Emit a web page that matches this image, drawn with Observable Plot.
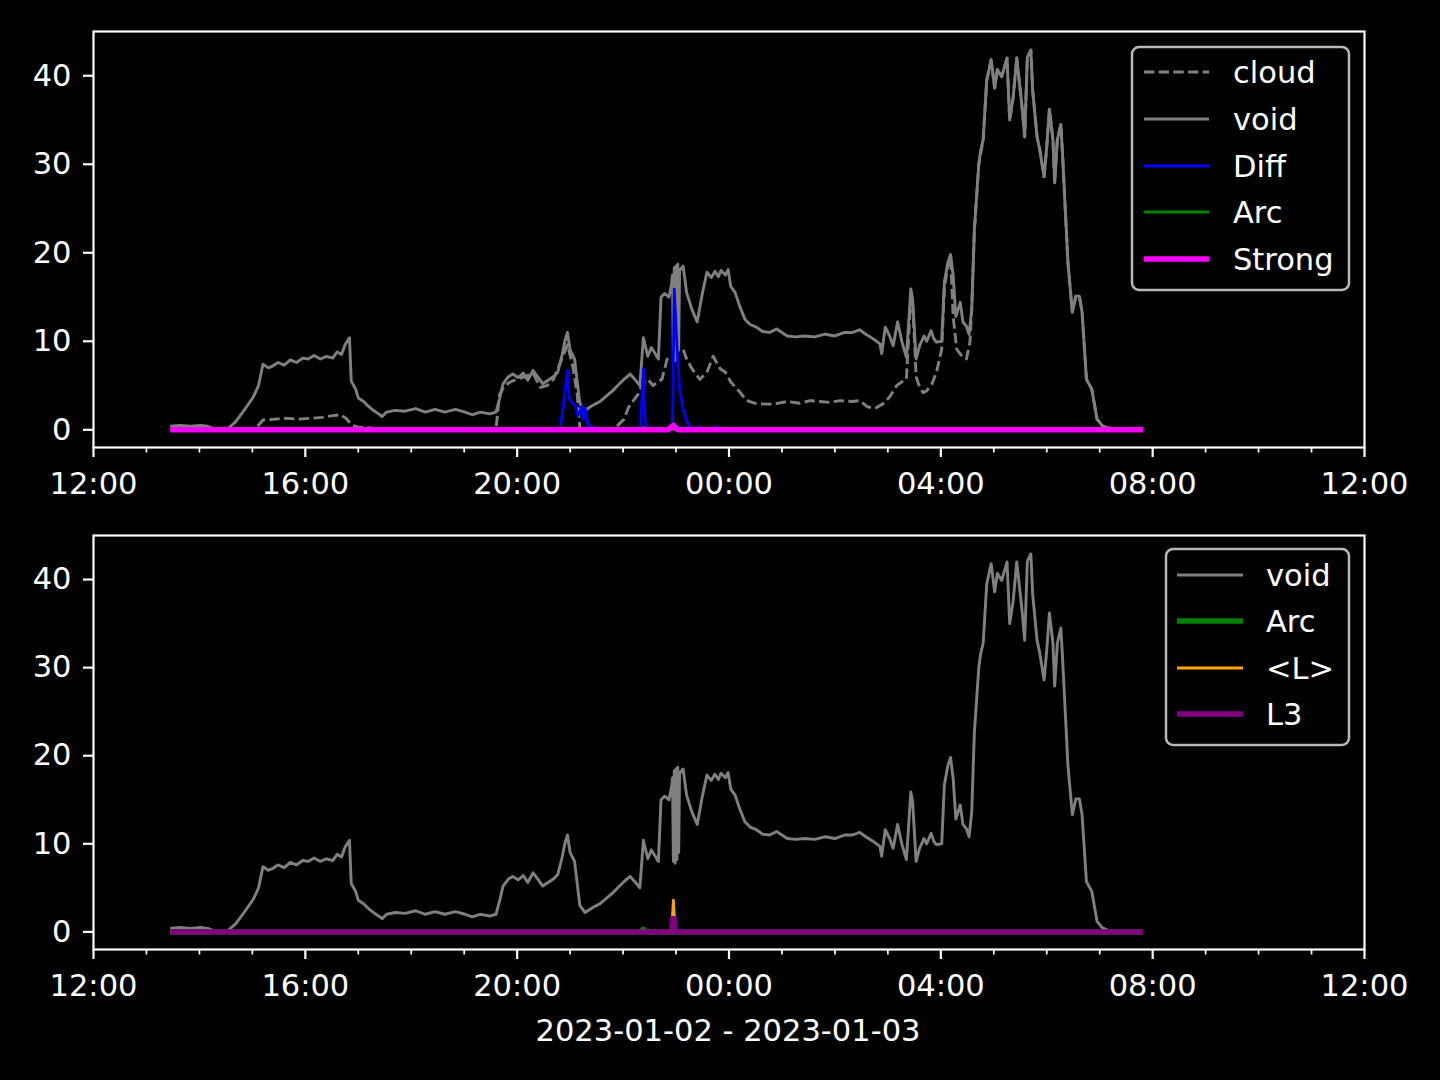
<!DOCTYPE html>
<html><head><meta charset="utf-8">
<script src="https://cdn.jsdelivr.net/npm/d3@7"></script>
<script src="https://cdn.jsdelivr.net/npm/@observablehq/plot@0.6"></script>
<style>
html,body{margin:0;padding:0;background:#000;}
#wrap{position:relative;width:1440px;height:1080px;background:#000;overflow:hidden;}
.panel{position:absolute;left:0;}
#overlay{position:absolute;left:0;top:0;}
</style>
</head><body>
<div id="wrap">
  <div id="p1" class="panel" style="top:0px"></div>
  <div id="p2" class="panel" style="top:500px"></div>
  <svg id="overlay" width="1440" height="1080"></svg>
</div>
<script>
// minutes after 2023-01-02 12:00, value
const voidSeries = [[87,0.4],[98,0.5],[110,0.4],[121,0.5],[129,0.4],[138,0.1],[153,0.2],[161,0.9],[172,2.4],[181,3.7],[187,5.0],[192,7.4],[198,7.0],[203,7.2],[209,7.6],[216,7.3],[223,7.9],[230,7.6],[237,8.1],[243,8.0],[250,8.4],[257,8.0],[264,8.3],[271,8.1],[276,8.8],[281,8.5],[285,9.6],[290,10.4],[292,5.5],[297,4.6],[300,3.6],[306,3.2],[311,2.7],[317,2.2],[323,1.8],[327,1.5],[332,2.0],[342,2.2],[353,2.1],[365,2.4],[376,2.0],[387,2.3],[398,2.0],[410,2.3],[421,2.0],[429,1.7],[438,2.0],[449,1.8],[456,2.0],[460,3.5],[464,5.2],[470,6.0],[475,6.3],[481,5.9],[487,6.4],[492,5.6],[498,6.7],[504,5.9],[509,5.2],[515,5.6],[521,6.0],[526,6.5],[531,8.5],[534,10.0],[537,11.0],[540,9.0],[545,8.0],[548,5.5],[551,3.0],[557,2.2],[563,2.6],[568,2.9],[574,3.2],[581,3.8],[588,4.4],[594,5.0],[601,5.7],[608,6.3],[615,5.5],[619,5.0],[623,10.4],[628,8.3],[632,9.3],[637,8.5],[640,8.0],[643,15.0],[647,15.4],[652,15.0],[655,16.5],[656,17.5],[657,8.0],[658,18.3],[659,7.8],[660,18.5],[661,8.2],[662,18.7],[663,9.0],[664,18.0],[668,18.5],[672,15.5],[678,13.6],[684,12.2],[690,15.5],[695,17.8],[700,17.2],[704,17.9],[708,17.3],[711,18.0],[716,17.5],[719,18.1],[722,16.2],[727,15.5],[732,14.0],[738,12.5],[744,11.9],[751,11.6],[758,11.1],[766,11.0],[774,11.4],[780,11.0],[786,10.6],[795,10.5],[806,10.6],[817,10.5],[829,10.8],[840,10.6],[851,11.0],[860,11.0],[868,11.3],[875,10.8],[883,10.3],[891,9.7],[893,8.6],[897,11.6],[902,10.6],[906,9.5],[911,12.2],[916,9.9],[921,8.2],[926,15.9],[928,14.8],[932,8.0],[936,9.5],[941,10.6],[944,10.0],[949,11.2],[952,10.3],[955,9.9],[961,10.0],[964,16.7],[968,18.9],[971,19.8],[974,17.4],[977,12.8],[982,14.4],[985,12.2],[989,11.7],[992,10.8],[995,13.6],[998,22.6],[1003,30.0],[1005,31.5],[1008,32.8],[1012,39.5],[1017,41.8],[1021,38.6],[1024,40.7],[1029,39.9],[1035,42.0],[1038,35.0],[1042,37.6],[1046,42.0],[1052,36.5],[1055,33.1],[1058,42.1],[1062,42.9],[1064,38.4],[1069,33.1],[1072,31.7],[1077,28.6],[1080,32.0],[1083,36.2],[1087,32.8],[1089,27.9],[1092,32.8],[1096,34.5],[1098,30.9],[1104,18.9],[1109,13.3],[1113,15.1],[1117,15.1],[1120,13.3],[1125,5.7],[1131,4.6],[1137,1.2],[1143,0.45],[1149,0.2],[1163,0.1],[1189,0.1]];

const cloudSeries = [[87,0.05],[177,0],[185,0.3],[192,1.1],[206,1.2],[217,1.3],[232,1.2],[246,1.3],[259,1.4],[271,1.6],[280,1.7],[286,1.3],[293,0.5],[300,0.3],[314,0.2],[331,0.05],[456,0],[460,4.0],[466,5.0],[474,5.5],[483,5.8],[491,6.1],[498,6.4],[506,4.8],[514,5.0],[521,5.7],[529,7.6],[537,9.6],[543,7.2],[548,4.0],[551,0.2],[574,0],[588,0.1],[594,0.5],[601,1.2],[606,2.5],[611,3.2],[617,4.0],[623,5.4],[628,5.7],[634,5.0],[640,5.5],[644,5.7],[650,8.0],[657,8.3],[662,9.0],[668,9.1],[672,8.0],[678,6.9],[687,5.7],[695,6.5],[702,8.3],[710,6.9],[716,6.5],[722,5.4],[732,4.3],[740,3.3],[749,3.0],[761,2.9],[770,2.9],[786,3.2],[800,3.0],[812,3.3],[823,3.2],[834,3.1],[846,3.3],[860,3.2],[868,3.3],[877,2.6],[885,2.4],[894,2.9],[902,3.7],[910,5.0],[917,5.5],[921,5.7],[926,15.0],[928,14.5],[932,6.0],[936,4.8],[940,4.2],[944,4.4],[950,5.2],[955,6.5],[961,9.1],[964,16.0],[968,18.5],[971,19.5],[974,12.8],[978,9.1],[984,8.3],[989,8.0],[993,9.9],[995,13.6],[998,22.6],[1003,30.0],[1008,32.8],[1012,39.5],[1017,41.8],[1021,38.6],[1024,40.7],[1029,39.9],[1035,42.0],[1038,35.0],[1042,37.6],[1046,42.0],[1052,36.5],[1055,33.1],[1058,42.1],[1062,42.9],[1064,38.4],[1069,33.1],[1072,31.7],[1077,28.6],[1080,32.0],[1083,36.2],[1087,32.8],[1089,27.9],[1092,32.8],[1096,34.5],[1098,30.9],[1104,18.9],[1109,13.3],[1113,15.1],[1117,15.1],[1120,13.3],[1125,5.7],[1131,4.6],[1137,1.2],[1143,0.45],[1149,0.2],[1163,0.1],[1189,0.05]];

const diffSeries = [[87,0],[526,0],[529,0.3],[532,2.4],[537,6.7],[539,3.5],[542,3.1],[546,2.7],[549,1.6],[554,2.7],[555,1.2],[557,2.4],[560,0.7],[566,0.2],[574,0.1],[617,0.1],[620,0.5],[623,6.9],[625,0.9],[628,0.1],[653,0.1],[656,0.5],[658,15.9],[661,9.5],[664,4.6],[668,2.4],[672,1.0],[676,0.3],[681,0.1],[687,0.3],[690,0.05],[706,0.3],[710,0.05],[1189,0]];

const arcSeries = [[87,0],[619,0],[623,0.3],[626,0],[1189,0]];
const strongSeries = [[87,0],[651,0],[657,0.5],[662,0],[1189,0]];
const lMeanSeries = [[87,0],[655,0],[657,3.6],[659,0],[1189,0]];
const l3Series = [[87,0],[655,0],[656,1.5],[658,1.5],[659,0],[1189,0]];

const majorTickHours = [0,4,8,12,16,20,24];
const minorTickHours = [1,2,3,5,6,7,9,10,11,13,14,15,17,18,19,21,22,23];
const yTicks = [0,10,20,30,40];
const xLabel = "2023-01-02 - 2023-01-03";

const t0 = new Date(2023,0,2,12,0);
const toDate = m => new Date(t0.getTime() + m*60000);
const rows = s => s.map(([m,v]) => ({date: toDate(m), v}));
const font = "'DejaVu Sans', sans-serif";
const FS = 30.5;

function panel(lines, height, mt, mb){
  return Plot.plot({
    width:1440, height, marginLeft:93, marginRight:76, marginTop:mt, marginBottom:mb,
    style:{background:"#000", color:"#fff", fontFamily:font, fontSize:FS+"px", overflow:"visible"},
    x:{type:"time", domain:[toDate(0), toDate(1440)]},
    y:{domain:[-2.0,45.0]},
    marks:[
      ...lines,
      Plot.axisX({ticks: majorTickHours.map(h=>toDate(h*60)), tickFormat: d3.timeFormat("%H:%M"), tickSize:10, tickPadding:15, stroke:"#fff", strokeWidth:2.2, fontSize:FS, label:null}),
      Plot.axisX({ticks: minorTickHours.map(h=>toDate(h*60)), tickSize:5.5, text:null, stroke:"#fff", strokeWidth:1.7, label:null}),
      Plot.axisY({ticks:yTicks, tickSize:10, tickPadding:12, stroke:"#fff", strokeWidth:2.2, fontSize:FS, label:null}),
      Plot.frame({stroke:"#fff", strokeWidth:2.2})
    ]
  });
}

const L = (s, color, w, dash) => Plot.line(rows(s), {x:"date", y:"v", stroke:color, strokeWidth:w, strokeDasharray:dash, strokeLinejoin:"round", strokeLinecap:"butt", clip:true});

document.getElementById("p1").appendChild(panel([
  L(cloudSeries, "gray", 2.9, "10.3,4.4"),
  L(voidSeries, "gray", 2.9),
  L(diffSeries, "blue", 2.8),
  L(arcSeries, "green", 2.8),
  L(strongSeries, "magenta", 5.5)
], 500, 31, 53));

document.getElementById("p2").appendChild(panel([
  L(voidSeries, "gray", 2.9),
  L(arcSeries, "green", 5.5),
  L(lMeanSeries, "orange", 2.8),
  L(l3Series, "purple", 5.5)
], 580, 35, 131));

// legends and label overlay
const ov = d3.select("#overlay");
function legend(x, y, w, h, lineX0, lineX1, textX, rowY, items){
  ov.append("rect").attr("x",x).attr("y",y).attr("width",w).attr("height",h).attr("rx",7)
    .attr("fill","rgba(0,0,0,0.8)").attr("stroke","#b8b8b8").attr("stroke-width",2.5);
  items.forEach((it,i)=>{
    const cy = rowY[i];
    ov.append("line").attr("x1",lineX0).attr("x2",lineX1).attr("y1",cy).attr("y2",cy)
      .attr("stroke",it.color).attr("stroke-width",it.w).attr("stroke-dasharray",it.dash||null);
    ov.append("text").attr("x",textX).attr("y",cy).attr("dy","0.36em").attr("fill","#fff")
      .attr("font-family",font).attr("font-size",FS).text(it.label);
  });
}
legend(1132,47,217,243,1144,1209,1233,[72,119,166,212,259],[
  {label:"cloud", color:"gray", w:2.8, dash:"10.3,4.4"},
  {label:"void", color:"gray", w:2.8},
  {label:"Diff", color:"blue", w:2.8},
  {label:"Arc", color:"green", w:2.8},
  {label:"Strong", color:"magenta", w:5.5}
]);
legend(1166,549,183,196,1177,1243,1266,[575,621,668,714],[
  {label:"void", color:"gray", w:2.8},
  {label:"Arc", color:"green", w:5.5},
  {label:"<L>", color:"orange", w:2.8},
  {label:"L3", color:"purple", w:5.5}
]);
ov.append("text").attr("x",728).attr("y",1030).attr("dy","0.36em").attr("text-anchor","middle")
  .attr("fill","#fff").attr("font-family",font).attr("font-size",FS).text(xLabel);
</script>
</body></html>
